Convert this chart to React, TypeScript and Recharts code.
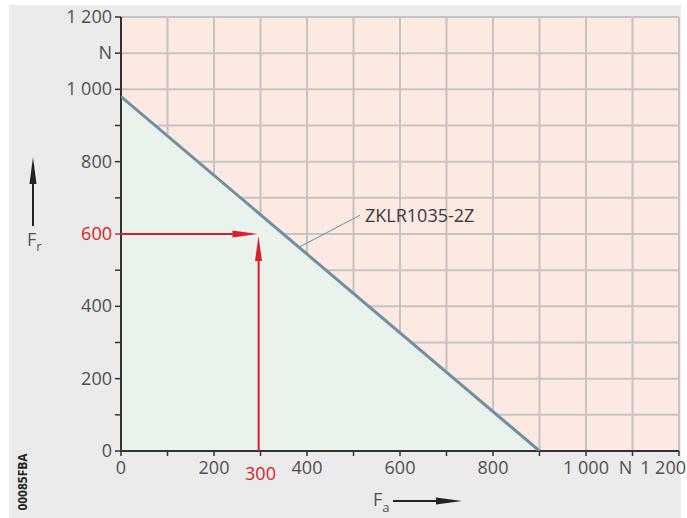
import React from 'react';
import {
  ComposedChart,
  Area,
  Line,
  XAxis,
  YAxis,
  CartesianGrid,
  ReferenceLine,
  ReferenceDot,
  Label,
} from 'recharts';

// ---- data ----
const limitFa = [0, 900];
const limitFr = [980, 0];
const exampleFa = 300;
const exampleFr = 600;
const seriesName = 'ZKLR1035-2Z';
const leaderFrom = { fa: 385, fr: 565 };
const leaderTo = { fa: 514, fr: 652 };
const xTicks = [0, 100, 200, 300, 400, 500, 600, 700, 800, 900, 1000, 1100, 1200];
const xTickLabels = ['0', '', '200', '', '400', '', '600', '', '800', '', '1 000', 'N', '1 200'];
const yTicks = [0, 100, 200, 300, 400, 500, 600, 700, 800, 900, 1000, 1100, 1200];
const yTickLabels = ['0', '', '200', '', '400', '', '600', '', '800', '', '1 000', 'N', '1 200'];
const xAxisName = 'F';
const xAxisSub = 'a';
const yAxisName = 'F';
const yAxisSub = 'r';
const figureCode = '00085FBA';

const data = limitFa.map((fa, i) => ({ fa, fr: limitFr[i] }));

// ---- style ----
const FONT = '"Open Sans", sans-serif';
const TEXT = '#505050';
const RED = '#d6202c';
const PINK = '#fbe9e2';
const GREEN = '#e9f2eb';
const GRID = '#c4c4c4';
const LINE = '#6f8fa3';
const AXIS = '#333333';
const FS = 18;

const XTick = (props: any) => {
  const { x, y, payload } = props;
  const v = payload.value;
  const idx = xTicks.indexOf(v);
  const label = idx >= 0 ? xTickLabels[idx] : '';
  const isLast = idx === xTicks.length - 1;
  const isUnit = label === 'N';
  return (
    <g>
      <line x1={x} y1={y} x2={x} y2={y + 5} stroke={AXIS} strokeWidth={1.5} />
      {v === exampleFa ? (
        <text x={x} y={y + 29} textAnchor="middle" fontFamily={FONT} fontSize={FS} fill={RED}>
          {String(v)}
        </text>
      ) : (
        label && (
          <text
            x={isLast ? x + 7 : isUnit ? x - 7 : x}
            y={y + 23}
            textAnchor={isLast ? 'end' : 'middle'}
            fontFamily={FONT}
            fontSize={FS}
            fill={TEXT}
          >
            {label}
          </text>
        )
      )}
    </g>
  );
};

const YTick = (props: any) => {
  const { x, y, payload } = props;
  const v = payload.value;
  const idx = yTicks.indexOf(v);
  const label = idx >= 0 ? yTickLabels[idx] : '';
  return (
    <g>
      <line x1={x - 6} y1={y} x2={x} y2={y} stroke={v === exampleFr ? RED : AXIS} strokeWidth={1.5} />
      {label && (
        <text
          x={x - 9}
          y={y + 6}
          textAnchor="end"
          fontFamily={FONT}
          fontSize={FS}
          fill={v === exampleFr ? RED : TEXT}
        >
          {label}
        </text>
      )}
    </g>
  );
};

const ArrowHeads = (props: any) => {
  const { cx, cy } = props;
  const hx = cx - 3;
  const vy = cy + 2;
  const vx = cx - 2;
  return (
    <g>
      <polygon points={`${hx},${cy} ${hx - 25},${cy - 3.5} ${hx - 25},${cy + 3.5}`} fill={RED} />
      <polygon points={`${vx},${vy} ${vx - 3.5},${vy + 25} ${vx + 3.5},${vy + 25}`} fill={RED} />
    </g>
  );
};

const NameTag = (props: any) => {
  const { cx, cy } = props;
  return (
    <text x={cx + 5} y={cy + 7} fontFamily={FONT} fontSize={18} fill="#3a3a3a">
      {seriesName}
    </text>
  );
};

const XName = () => (
  <g>
    <text x={373} y={506} fontFamily={FONT} fontSize={FS} fill={TEXT}>
      {xAxisName}
      <tspan dy={6} fontSize={13}>{xAxisSub}</tspan>
    </text>
    <line x1={393} y1={501} x2={440} y2={501} stroke="#222" strokeWidth={2} />
    <polygon points="462,501 436,497.5 436,504.5" fill="#222" />
    <text
      x={0}
      y={0}
      transform="translate(27,482) rotate(-90)"
      textAnchor="middle"
      fontFamily={FONT}
      fontWeight="bold"
      fontSize={12}
      fill="#222"
    >
      {figureCode}
    </text>
  </g>
);

const YName = () => (
  <g>
    <line x1={33} y1={226} x2={33} y2={180} stroke="#222" strokeWidth={2} />
    <polygon points="33,157 29.5,184 36.5,184" fill="#222" />
    <text x={27} y={246} fontFamily={FONT} fontSize={FS} fill={TEXT}>
      {yAxisName}
      <tspan dy={5} fontSize={13}>{yAxisSub}</tspan>
    </text>
  </g>
);

export default function App() {
  return (
    <div style={{ position: 'absolute', left: 0, top: 0, width: 687, height: 518, background: '#ffffff', overflow: 'hidden' }}>
      <div style={{ position: 'absolute', left: 9, top: 5, width: 672, height: 513, background: '#ebebeb' }} />
      <div style={{ position: 'absolute', left: 0, top: 0 }}>
        <ComposedChart
          width={687}
          height={518}
          data={data}
          margin={{ top: 17, right: 8, left: 61, bottom: 37 }}
        >
          <CartesianGrid horizontal={false} vertical={false} fill={PINK} fillOpacity={1} stroke="none" />
          <XAxis
            dataKey="fa"
            type="number"
            domain={[0, 1200]}
            ticks={xTicks}
            interval={0}
            tick={<XTick />}
            tickLine={false}
            tickSize={0}
            tickMargin={0}
            axisLine={false}
            height={30}
            allowDataOverflow
          >
            <Label content={<XName />} />
          </XAxis>
          <YAxis
            type="number"
            domain={[0, 1200]}
            ticks={yTicks}
            interval={0}
            tick={<YTick />}
            tickLine={false}
            tickSize={0}
            tickMargin={0}
            axisLine={false}
            width={60}
            allowDataOverflow
          >
            <Label content={<YName />} />
          </YAxis>
          <Area
            dataKey="fr"
            type="linear"
            fill={GREEN}
            fillOpacity={1}
            stroke="none"
            isAnimationActive={false}
          />
          <CartesianGrid stroke={GRID} strokeWidth={2} fill="none" />
          <ReferenceLine y={0} stroke={AXIS} strokeWidth={2} />
          <ReferenceLine x={0} stroke={AXIS} strokeWidth={2} />
          <Line
            dataKey="fr"
            type="linear"
            stroke={LINE}
            strokeWidth={3}
            dot={false}
            activeDot={false}
            isAnimationActive={false}
          />
          <ReferenceLine
            segment={[leaderFrom, leaderTo].map((p) => ({ x: p.fa, y: p.fr }))}
            stroke={LINE}
            strokeWidth={1}
          />
          <ReferenceDot x={leaderTo.fa} y={leaderTo.fr} r={0} shape={<NameTag />} />
          <ReferenceLine
            segment={[{ x: 0, y: exampleFr }, { x: exampleFa - 20, y: exampleFr }]}
            stroke={RED}
            strokeWidth={2}
          />
          <ReferenceLine
            segment={[{ x: exampleFa - 4, y: 0 }, { x: exampleFa - 4, y: exampleFr - 50 }]}
            stroke={RED}
            strokeWidth={2}
          />
          <ReferenceDot x={exampleFa} y={exampleFr} r={0} shape={<ArrowHeads />} />
        </ComposedChart>
      </div>
    </div>
  );
}
